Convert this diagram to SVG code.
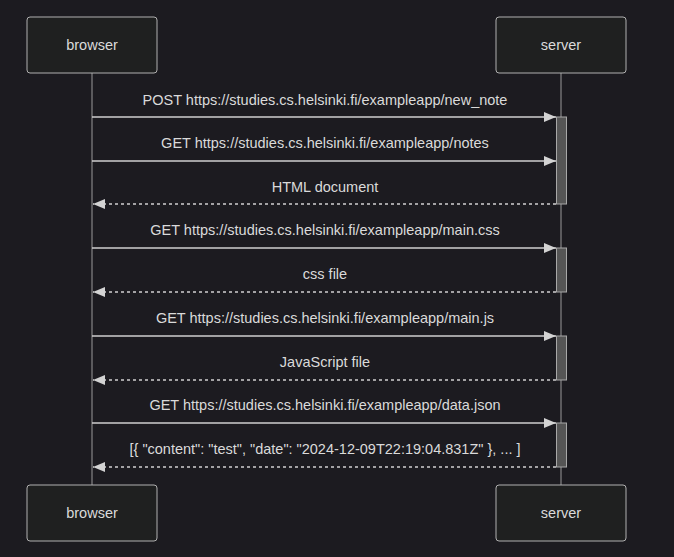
<svg xmlns="http://www.w3.org/2000/svg" width="674" height="557" viewBox="0 0 674 557">
<style>
.bg{fill:#1c1b20}
.actor rect{fill:#1f2020;stroke:#b0b0b0;stroke-width:1}
.actor text,.lbl{font-family:"Liberation Sans",Arial,sans-serif;font-size:14.5px;fill:#dadada;text-anchor:middle}
.life{stroke:#9a9a9a;stroke-width:1}
.msg{stroke:#cfcfcf;stroke-width:1.5;fill:none}
.ret{stroke:#cfcfcf;stroke-width:1.5;fill:none;stroke-dasharray:3,3}
.act{fill:#555555;stroke:#a8a8a8;stroke-width:1}
</style>
<defs>
<marker id="ah" viewBox="0 0 12 10" refX="12" refY="5" markerWidth="12" markerHeight="10" markerUnits="userSpaceOnUse" orient="auto">
<path d="M0,0 L12,5 L0,10 z" fill="#d3d3d3"/>
</marker>
</defs>
<rect class="bg" x="0" y="0" width="674" height="557"/>
<g id="lifelines">
<line class="life" x1="92" y1="73" x2="92" y2="485"/>
<line class="life" x1="561" y1="73" x2="561" y2="485"/>
</g>
<g id="activations">
<rect class="act" x="556.5" y="117" width="10" height="87"/>
<rect class="act" x="556.5" y="248" width="10" height="44"/>
<rect class="act" x="556.5" y="336" width="10" height="44"/>
<rect class="act" x="556.5" y="423" width="10" height="44"/>
</g>
<g id="browser_top" class="actor"><rect x="27" y="17" width="130" height="56" rx="3"/><text x="92" y="50">browser</text></g>
<g id="server_top" class="actor"><rect x="496" y="17" width="130" height="56" rx="3"/><text x="561" y="50">server</text></g>
<g id="browser_bottom" class="actor"><rect x="27" y="485" width="130" height="56" rx="3"/><text x="92" y="518">browser</text></g>
<g id="server_bottom" class="actor"><rect x="496" y="485" width="130" height="56" rx="3"/><text x="561" y="518">server</text></g>
<g id="connectors">
<line class="msg" x1="92" y1="117" x2="556" y2="117" marker-end="url(#ah)"/>
<line class="msg" x1="92" y1="161" x2="556" y2="161" marker-end="url(#ah)"/>
<line class="ret" x1="556" y1="204" x2="93" y2="204" marker-end="url(#ah)"/>
<line class="msg" x1="92" y1="248" x2="556" y2="248" marker-end="url(#ah)"/>
<line class="ret" x1="556" y1="292" x2="93" y2="292" marker-end="url(#ah)"/>
<line class="msg" x1="92" y1="336" x2="556" y2="336" marker-end="url(#ah)"/>
<line class="ret" x1="556" y1="380" x2="93" y2="380" marker-end="url(#ah)"/>
<line class="msg" x1="92" y1="423" x2="556" y2="423" marker-end="url(#ah)"/>
<line class="ret" x1="556" y1="467" x2="93" y2="467" marker-end="url(#ah)"/>
</g>
<g id="labels">
<text class="lbl" x="325" y="105">POST https://studies.cs.helsinki.fi/exampleapp/new_note</text>
<text class="lbl" x="325" y="148">GET https://studies.cs.helsinki.fi/exampleapp/notes</text>
<text class="lbl" x="325" y="192">HTML document</text>
<text class="lbl" x="325" y="235">GET https://studies.cs.helsinki.fi/exampleapp/main.css</text>
<text class="lbl" x="325" y="279">css file</text>
<text class="lbl" x="325" y="323">GET https://studies.cs.helsinki.fi/exampleapp/main.js</text>
<text class="lbl" x="325" y="367">JavaScript file</text>
<text class="lbl" x="325" y="410">GET https://studies.cs.helsinki.fi/exampleapp/data.json</text>
<text class="lbl" x="325" y="454">[{ "content": "test", "date": "2024-12-09T22:19:04.831Z" }, ... ]</text>
</g>
</svg>
